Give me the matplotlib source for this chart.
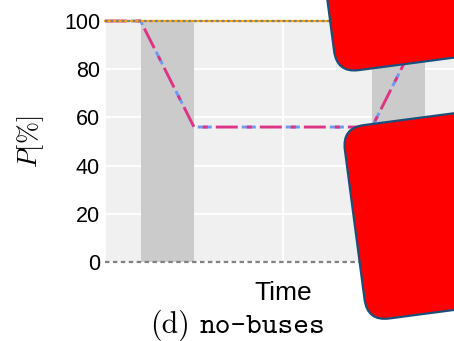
import matplotlib
matplotlib.use('Agg')
import matplotlib.pyplot as plt
from matplotlib.patches import FancyBboxPatch
from matplotlib import transforms

plt.rcParams['font.family'] = ['Liberation Sans', 'DejaVu Sans']
plt.rcParams['mathtext.fontset'] = 'cm'
plt.rcParams['lines.scale_dashes'] = False

# data (time in arbitrary units, power in %)
time_pts = [0, 2, 5, 15, 18, 20]
power_pct = [100, 100, 56, 56, 100, 100]
full_x = [0, 20]
full_y = [100, 100]
zero_y = [0, 0]
outages = [(2, 5), (15, 18)]
yticks = [0, 20, 40, 60, 80, 100]

fig = plt.figure(figsize=(4.54, 3.41), dpi=100)
W, H = 454, 341
# axes spans past the right edge (the reference is cropped)
ax = fig.add_axes([105 / W, 1 - 262 / H, 356 / W, 241 / H])
ax.set_facecolor('#f0f0f0')
for s in ax.spines.values():
    s.set_visible(False)
ax.set_xlim(0, 20)
ax.set_ylim(0, 100)
ax.set_axisbelow(True)
ax.grid(True, color='white', lw=1.3)
ax.set_xticks([0, 10, 20])
ax.set_xticklabels([])
ax.set_yticks(yticks)
ax.tick_params(length=0, labelsize=15.5, pad=3.6)

for a, b in outages:
    ax.axvspan(a, b, color='#cbcbcb', lw=0, zorder=1)

ax.plot(time_pts, power_pct, color='#6f98f0', lw=2.1, ls=(13.0, (10.1, 21.6)), zorder=2, clip_on=False)
ax.plot(time_pts, power_pct, color='#dc3585', lw=2.1, ls=(0, (15.8, 6.5, 3.6, 5.8)), zorder=2.1, clip_on=False)
ax.plot(full_x, full_y, color='#ffa500', lw=1.6, zorder=3, clip_on=False)
ax.plot(full_x, full_y, color='#808080', lw=1.6, ls=(0, (2.0, 2.0)), zorder=3.1, clip_on=False)
ax.plot(full_x, zero_y, color='#808080', lw=1.6, ls=(0, (3.2, 2.5)), zorder=3, clip_on=False)

ax.set_ylabel(r'$P[\%]$', fontsize=19)
ax.yaxis.set_label_coords(-0.165, 0.5)
ax.set_xlabel('Time', fontsize=19, va='baseline')
ax.xaxis.set_label_coords(0.5, (262 - 300) / 241)

# overlay in pixel coords (y down) for caption and the red boxes
ov = fig.add_axes([0, 0, 1, 1])
ov.set_xlim(0, W)
ov.set_ylim(H, 0)
ov.axis('off')
ov.patch.set_alpha(0)

ov.text(150, 333, '(d)', fontfamily='cmr10', fontsize=21.5, va='baseline', ha='left')
ov.text(200, 333, 'no-buses', fontfamily='cmtt10', fontsize=21.5, va='baseline', ha='left')

boxes = [(337, 73, 300, 300), (342, 128, 300, 195)]
for cx, cy, bw, bh in boxes:
    if cy == 73:
        y0 = cy - bh
    else:
        y0 = cy
    rot = transforms.Affine2D().rotate_deg_around(cx, cy, -7.5) + ov.transData
    p = FancyBboxPatch((cx, y0), bw, bh, boxstyle='round,pad=0,rounding_size=22',
                       fc='#ff0000', ec='#1b4f7a', lw=1.6, transform=rot)
    ov.add_patch(p)

fig.savefig('out.png', dpi=100)
